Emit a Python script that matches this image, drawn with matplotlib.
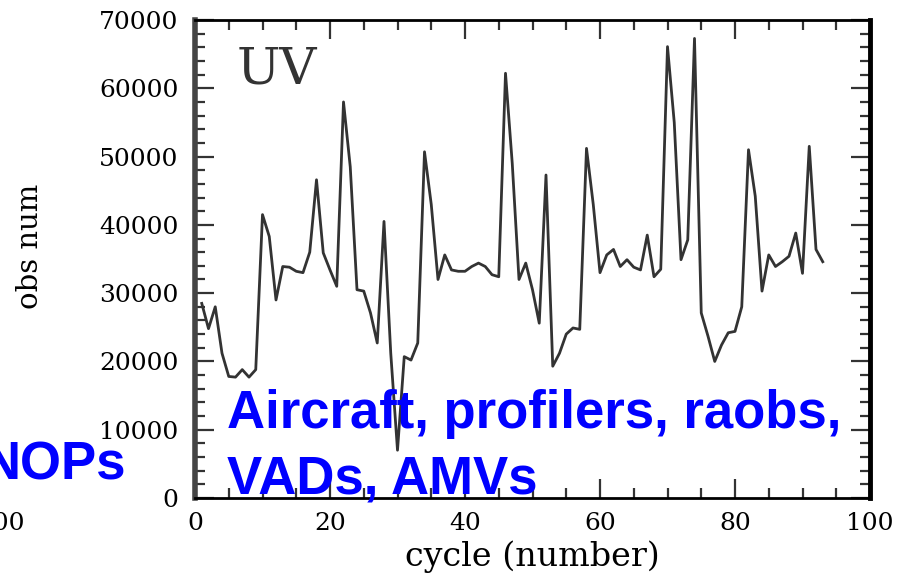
import numpy as np
import matplotlib.pyplot as plt
from matplotlib.ticker import MultipleLocator

# UV observation counts per assimilation cycle
cycle = np.arange(1, 94)
obs_num = [28500, 24800, 28000, 21200, 17800, 17700, 18800, 17700, 18800, 41500,
           38300, 29000, 33900, 33800, 33200, 33000, 36000, 46600, 35900, 33400,
           31000, 58000, 48500, 30500, 30300, 27100, 22700, 40500, 21200, 7000,
           20700, 20200, 22700, 50700, 43000, 32000, 35600, 33400, 33200, 33200,
           33900, 34400, 33900, 32700, 32400, 62200, 49000, 32000, 34400, 30500,
           25600, 47300, 19300, 21200, 24000, 24900, 24700, 51200, 43000, 33000,
           35600, 36400, 33900, 34900, 33800, 33400, 38500, 32400, 33500, 66100,
           55000, 34900, 37800, 67300, 27100, 23700, 20000, 22400, 24200, 24400,
           28000, 51000, 44200, 30300, 35600, 33900, 34600, 35400, 38800, 32900,
           51500, 36400, 34600]

W, H = 915, 576
fig = plt.figure(figsize=(W / 100, H / 100), dpi=100)
ax = fig.add_axes([195 / W, 1 - 498 / H, 675 / W, 478 / H])

ax.plot(cycle, obs_num, color='#333333', lw=2)

ax.set_xlim(0, 100)
ax.set_ylim(0, 70000)
ax.xaxis.set_major_locator(MultipleLocator(20))
ax.xaxis.set_minor_locator(MultipleLocator(5))
ax.yaxis.set_major_locator(MultipleLocator(10000))
ax.yaxis.set_minor_locator(MultipleLocator(2000))

serif = 'DejaVu Serif'
ax.tick_params(which='both', direction='in', top=True, right=True,
               color='#333333', width=1.6)
ax.tick_params(which='major', length=14)
ax.tick_params(which='minor', length=7)
ax.tick_params(axis='x', pad=10)
ax.tick_params(axis='y', pad=12)
for lab in ax.get_xticklabels() + ax.get_yticklabels():
    lab.set_family(serif)
    lab.set_fontsize(18)

ax.spines['left'].set_linewidth(4)
ax.spines['left'].set_color('#444444')
ax.spines['right'].set_linewidth(3.5)
ax.spines['top'].set_linewidth(2)
ax.spines['bottom'].set_linewidth(2)

ax.set_xlabel('cycle (number)', family=serif, fontsize=24, va='top')
ax.xaxis.set_label_coords(0.5, -42 / 478)
ax.set_ylabel('obs num', family=serif, fontsize=21, va='center')
ax.yaxis.set_label_coords(-165 / 675, 252 / 478)

ax.text((237 - 195) / 675, (498 - 84) / 478, 'UV', transform=ax.transAxes,
        family=serif, fontsize=37, color='#333333', va='baseline', ha='left')

# overlaid observation-type labels
blue = dict(family='Liberation Sans', weight='bold', fontsize=38, color='#0000ff',
            va='baseline')
fig.text(227 / W, 1 - 428 / H, 'Aircraft, profilers, raobs,', ha='left', **blue)
fig.text(227 / W, 1 - 493 / H, 'VADs, AMVs', ha='left', **blue)
fig.text(126 / W, 1 - 479 / H, 'NOPs', ha='right', **blue)

# edge of the neighbouring panel's axis
fig.text(24 / W, 1 - 512 / H, '100', ha='right', va='top', family=serif, fontsize=18)

fig.savefig('out.png', dpi=100)
